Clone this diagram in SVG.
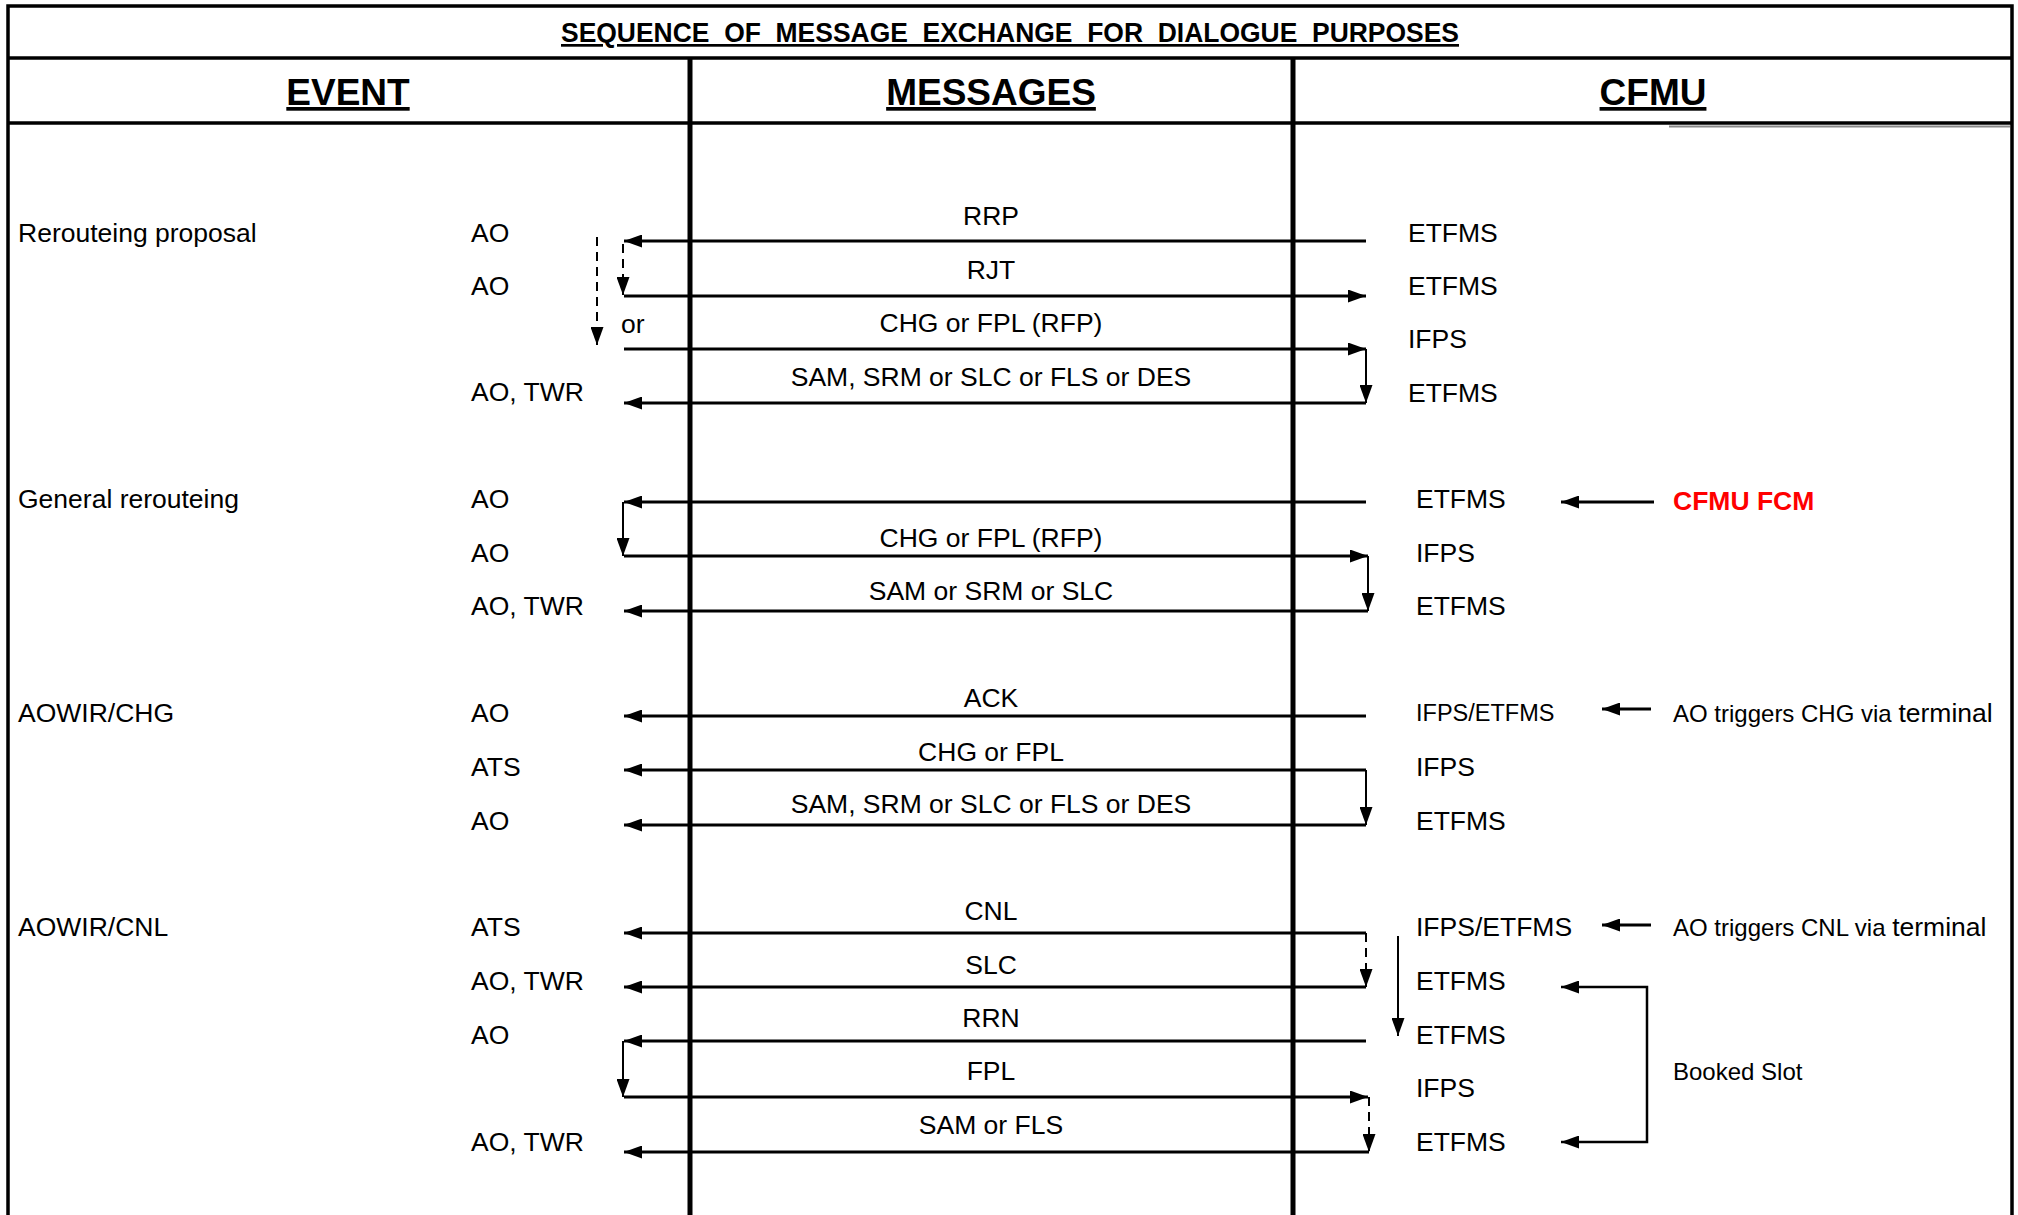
<svg xmlns="http://www.w3.org/2000/svg" width="2018" height="1215" viewBox="0 0 2018 1215">
<defs>
<marker id="ah" viewBox="0 0 18 13" refX="18" refY="6.5" markerWidth="18" markerHeight="13" markerUnits="userSpaceOnUse" orient="auto-start-reverse"><path d="M0,0 L18,6.5 L0,13 z" fill="#000"/></marker>
<style>
.t{font-family:"Liberation Sans",Arial,sans-serif;font-size:26.5px;fill:#000}
.m{text-anchor:middle}
.s{font-size:24px}
.ttl{font-weight:bold;font-size:27px;text-decoration:underline;white-space:pre}
.hdr{font-weight:bold;font-size:37px;text-decoration:underline;text-anchor:middle}
.red{fill:#ff0000;font-weight:bold}
.frame{stroke:#000;fill:none}
.ln{stroke:#000;stroke-width:3;fill:none;marker-end:url(#ah)}
.v{stroke:#000;stroke-width:2;fill:none;marker-end:url(#ah)}
.d{stroke-dasharray:9,6}
</style>
</defs>
<rect width="2018" height="1215" fill="#fff"/>
<g id="frame">
<path class="frame" stroke-width="3.5" d="M8,1215 V6 H2012 V1215"/>
<path class="frame" stroke-width="3.5" d="M8,58 H2012"/>
<path class="frame" stroke-width="3.5" d="M8,123 H1669"/>
<path class="frame" stroke-width="3.5" d="M1669,123 H2012"/>
<path d="M1669,126.5 H2010" stroke="#888" stroke-width="2"/>
<path class="frame" stroke-width="5" d="M690,58 V1215 M1293,58 V1215"/>
</g>
<g id="title">
<text class="t ttl m" x="1010" y="42" textLength="898" lengthAdjust="spacingAndGlyphs" xml:space="preserve">SEQUENCE  OF  MESSAGE  EXCHANGE  FOR  DIALOGUE  PURPOSES</text>
<text class="t hdr" x="348" y="105">EVENT</text>
<text class="t hdr" x="991" y="105">MESSAGES</text>
<text class="t hdr" x="1653" y="105">CFMU</text>
</g>
<g id="sec-rerouteing-proposal">
<text class="t" x="18" y="242">Rerouteing proposal</text>
<text class="t" x="471" y="242">AO</text>
<text class="t" x="471" y="295">AO</text>
<text class="t" x="621" y="333">or</text>
<text class="t" x="471" y="401">AO, TWR</text>
<text class="t m" x="991" y="225">RRP</text>
<text class="t m" x="991" y="279">RJT</text>
<text class="t m" x="991" y="332">CHG or FPL (RFP)</text>
<text class="t m" x="991" y="386">SAM, SRM or SLC or FLS or DES</text>
<text class="t" x="1408" y="242">ETFMS</text>
<text class="t" x="1408" y="295">ETFMS</text>
<text class="t" x="1408" y="348">IFPS</text>
<text class="t" x="1408" y="402">ETFMS</text>
</g>
<g id="sec-general-rerouteing">
<text class="t" x="18" y="508">General rerouteing</text>
<text class="t" x="471" y="508">AO</text>
<text class="t" x="471" y="562">AO</text>
<text class="t" x="471" y="615">AO, TWR</text>
<text class="t m" x="991" y="547">CHG or FPL (RFP)</text>
<text class="t m" x="991" y="600">SAM or SRM or SLC</text>
<text class="t" x="1416" y="508">ETFMS</text>
<text class="t" x="1416" y="562">IFPS</text>
<text class="t" x="1416" y="615">ETFMS</text>
<text class="t red" x="1673" y="510">CFMU FCM</text>
</g>
<g id="sec-aowir-chg">
<text class="t" x="18" y="722">AOWIR/CHG</text>
<text class="t" x="471" y="722">AO</text>
<text class="t" x="471" y="776">ATS</text>
<text class="t" x="471" y="830">AO</text>
<text class="t m" x="991" y="707">ACK</text>
<text class="t m" x="991" y="761">CHG or FPL</text>
<text class="t m" x="991" y="813">SAM, SRM or SLC or FLS or DES</text>
<text class="t" x="1416" y="721" style="font-size:23.5px">IFPS/ETFMS</text>
<text class="t" x="1416" y="776">IFPS</text>
<text class="t" x="1416" y="830">ETFMS</text>
<text class="t s" x="1673" y="722">AO triggers CHG via <tspan style="font-size:26.5px">terminal</tspan></text>
</g>
<g id="sec-aowir-cnl">
<text class="t" x="18" y="936">AOWIR/CNL</text>
<text class="t" x="471" y="936">ATS</text>
<text class="t" x="471" y="990">AO, TWR</text>
<text class="t" x="471" y="1044">AO</text>
<text class="t" x="471" y="1151">AO, TWR</text>
<text class="t m" x="991" y="920">CNL</text>
<text class="t m" x="991" y="974">SLC</text>
<text class="t m" x="991" y="1027">RRN</text>
<text class="t m" x="991" y="1080">FPL</text>
<text class="t m" x="991" y="1134">SAM or FLS</text>
<text class="t" x="1416" y="936">IFPS/ETFMS</text>
<text class="t" x="1416" y="990">ETFMS</text>
<text class="t" x="1416" y="1044">ETFMS</text>
<text class="t" x="1416" y="1097">IFPS</text>
<text class="t" x="1416" y="1151">ETFMS</text>
<text class="t s" x="1673" y="936">AO triggers CNL via <tspan style="font-size:26.5px">terminal</tspan></text>
<text class="t s" x="1673" y="1080">Booked Slot</text>
</g>
<g id="connectors">
<path class="ln" d="M1366,241 H624"/>
<path class="ln" d="M624,296 H1366"/>
<path class="ln" d="M624,349 H1366"/>
<path class="v" d="M1366,349 V403"/>
<path class="ln" d="M1366,403 H624"/>
<path class="v d" d="M623,244 V295"/>
<path class="v d" d="M597,237 V345"/>
<path class="ln" d="M1366,502 H624"/>
<path class="v" d="M623,502 V556"/>
<path class="ln" d="M624,556 H1368"/>
<path class="v" d="M1368,556 V611"/>
<path class="ln" d="M1368,611 H624"/>
<path class="ln" d="M1654,502 H1561"/>
<path class="ln" d="M1366,716 H624"/>
<path class="ln" d="M1366,770 H624"/>
<path class="v" d="M1366,770 V825"/>
<path class="ln" d="M1366,825 H624"/>
<path class="ln" d="M1651,709 H1602"/>
<path class="ln" d="M1366,933 H624"/>
<path class="v d" d="M1366,933 V987"/>
<path class="ln" d="M1366,987 H624"/>
<path class="v" d="M1398,936 V1036"/>
<path class="ln" d="M1366,1041 H624"/>
<path class="v" d="M623,1041 V1097"/>
<path class="ln" d="M624,1097 H1368"/>
<path class="v d" d="M1369,1097 V1152"/>
<path class="ln" d="M1369,1152 H624"/>
<path class="ln" d="M1651,925 H1602"/>
<path class="v" style="marker-start:url(#ah);stroke-width:2.5" d="M1561,987 H1647 V1142 H1561"/>
</g>
</svg>
